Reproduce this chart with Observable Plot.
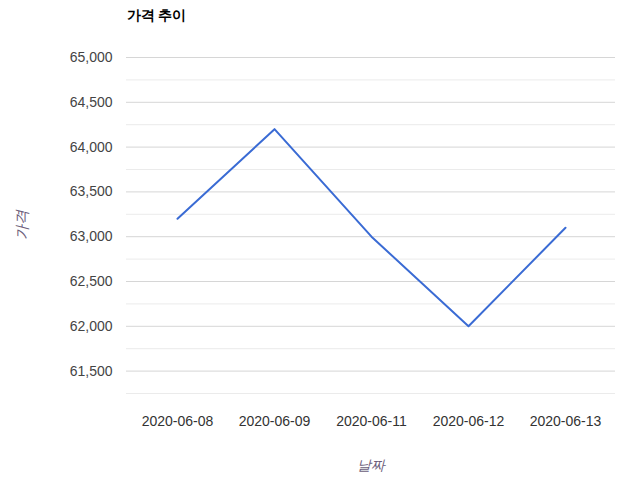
<!DOCTYPE html>
<html>
<head>
<meta charset="utf-8">
<script src="https://cdn.jsdelivr.net/npm/d3@7"></script>
<script src="https://cdn.jsdelivr.net/npm/@observablehq/plot@0.6"></script>
<style>
  html, body { margin: 0; padding: 0; background: #fff; }
  #chart svg { display: block; }
</style>
</head>
<body>
<div id="chart"></div>
<script>
const dates = ["2020-06-08", "2020-06-09", "2020-06-11", "2020-06-12", "2020-06-13"];
const prices = [63200, 64200, 63000, 62000, 63100];
const majorTicks = [61500, 62000, 62500, 63000, 63500, 64000, 64500, 65000];
const minorTicks = [61250, 61750, 62250, 62750, 63250, 63750, 64250, 64750];
const title = "가격 추이";
const yLabel = "가격";
const xLabel = "날짜";

const data = dates.map((d, i) => ({date: d, price: prices[i]}));
const font = "Liberation Sans, Arial, sans-serif";

const chart = Plot.plot({
  width: 622,
  height: 482,
  marginLeft: 126,
  marginRight: 7,
  marginTop: 57,
  marginBottom: 89,
  style: {fontFamily: font, fontSize: "14px", color: "#444", background: "#fff"},
  x: {type: "point", domain: dates, padding: 0.5, label: null},
  y: {domain: [61250, 65000], label: null},
  marks: [
    Plot.ruleY(minorTicks, {stroke: "#ebebeb", strokeWidth: 1}),
    Plot.ruleY(majorTicks, {stroke: "#d6d6d6", strokeWidth: 1}),
    Plot.axisY({ticks: majorTicks, tickSize: 0, tickPadding: 14, tickFormat: d3.format(","), fill: "#444", fontSize: 14}),
    Plot.axisX({tickSize: 0, tickPadding: 23, fill: "#333", fontSize: 14}),
    Plot.line(data, {x: "date", y: "price", stroke: "#3a6bd4", strokeWidth: 2}),
    Plot.text([title], {frameAnchor: "top-left", dy: -47, textAnchor: "start", fontWeight: "bold", fontSize: 14, fill: "#000"}),
    Plot.text([yLabel], {frameAnchor: "left", dx: -104, dy: 14, rotate: -90, fontStyle: "italic", fontSize: 15, fill: "#6b5d7a"}),
    Plot.text([xLabel], {frameAnchor: "bottom", dy: 76, fontStyle: "italic", fontSize: 14, fill: "#6b5d7a"})
  ]
});
document.getElementById("chart").appendChild(chart);
</script>
</body>
</html>
